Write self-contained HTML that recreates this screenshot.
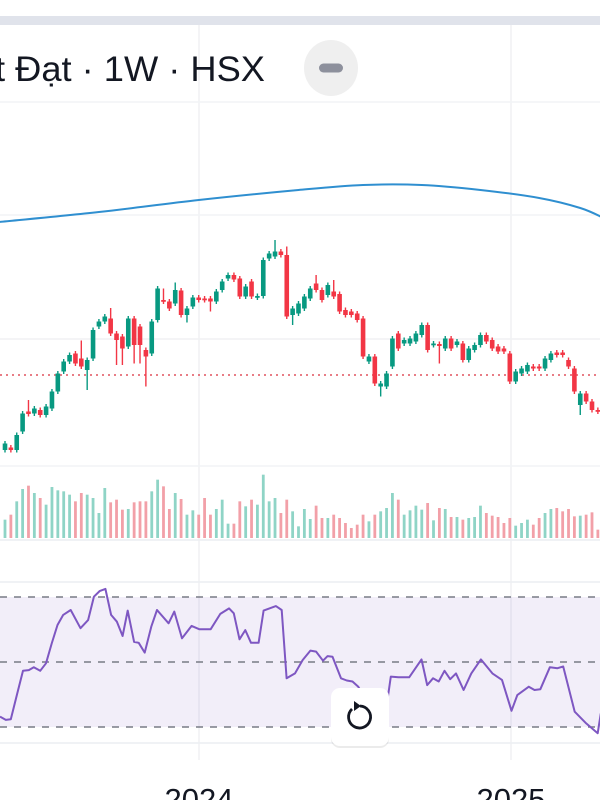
<!DOCTYPE html>
<html><head><meta charset="utf-8">
<style>
html,body{margin:0;padding:0;background:#fff;width:600px;height:800px;overflow:hidden;font-family:"Liberation Sans",sans-serif;}
svg{display:block}
</style></head>
<body>
<svg id="chart" width="600" height="800" viewBox="0 0 600 800" xmlns="http://www.w3.org/2000/svg">
  <rect x="0" y="0" width="600" height="800" fill="#fff"/>
  <rect x="0" y="16" width="600" height="9" fill="#e0e3eb"/>
  <g id="grid">
    <line x1="199" y1="25" x2="199" y2="760" stroke="#f0f1f4" stroke-width="1.5"/>
    <line x1="511" y1="25" x2="511" y2="760" stroke="#f0f1f4" stroke-width="1.5"/>
    <line x1="0" y1="102" x2="600" y2="102" stroke="#f2f3f5" stroke-width="1.5"/>
    <line x1="0" y1="215" x2="600" y2="215" stroke="#f2f3f5" stroke-width="1.5"/>
    <line x1="0" y1="339" x2="600" y2="339" stroke="#f0f1f4" stroke-width="1.5"/>
    <line x1="0" y1="466" x2="600" y2="466" stroke="#f2f3f5" stroke-width="1.5"/>
    <line x1="0" y1="540" x2="600" y2="540" stroke="#eceef2" stroke-width="1.5"/>
    <line x1="0" y1="582" x2="600" y2="582" stroke="#eceef2" stroke-width="1.5"/>
    <line x1="0" y1="743" x2="600" y2="743" stroke="#eceef2" stroke-width="1.5"/>
  </g>
  <text x="-5" y="81" font-size="35" fill="#131722" textLength="270" lengthAdjust="spacingAndGlyphs">t Đạt · 1W · HSX</text>
  <g>
    <ellipse cx="331" cy="68" rx="27" ry="28" fill="#efefef"/>
    <rect x="319" y="63.5" width="24" height="9" rx="4.5" fill="#8d909c"/>
  </g>
  <line x1="0" y1="375" x2="600" y2="375" stroke="#e0525e" stroke-width="1.5" stroke-dasharray="2,4"/>
  <path id="ma" fill="none" stroke="#2f8fd0" stroke-width="2"/>
  <g id="candles"></g>
  <g id="volume"></g>
  <rect x="0" y="597" width="600" height="130" fill="#7e57c2" fill-opacity="0.1"/>
  <g stroke="#787b86" stroke-width="1.6" stroke-dasharray="7,7">
    <line x1="0" y1="597" x2="600" y2="597"/>
    <line x1="0" y1="662" x2="600" y2="662"/>
    <line x1="0" y1="727" x2="600" y2="727"/>
  </g>
  <path id="rsi" fill="none" stroke="#7e57c2" stroke-width="2" stroke-linejoin="round"/>
  <g>
    <rect x="331" y="688" width="58" height="58" rx="9" fill="#000" fill-opacity="0.08" transform="translate(0,2)"/>
    <rect x="331" y="688" width="58" height="58" rx="9" fill="#fff"/>
    <path d="M352 709 A11 11 0 1 0 360 706" fill="none" stroke="#131722" stroke-width="2.8"/>
    <path d="M354 701 L361 706 L354 711 Z" fill="#131722"/>
  </g>
  <text x="199" y="810" font-size="31" fill="#131722" text-anchor="middle">2024</text>
  <text x="511" y="810" font-size="31" fill="#131722" text-anchor="middle">2025</text>
</svg>
<script>
const opens=[10.0,10.5,10.0,13.7,17.7,17.3,18.0,17.0,18.3,21.7,25.7,27.7,29.3,28.3,26.0,28.3,34.7,35.7,36.3,33.3,32.7,30.7,36.3,34.7,30.0,29.3,36.0,40.0,39.7,39.3,41.9,37.0,38.7,40.5,40.3,40.3,39.7,42.0,44.3,45.0,44.3,40.7,43.7,40.5,40.8,48.3,48.7,49.7,49.0,37.0,37.3,38.3,40.3,43.3,42.0,41.0,41.7,41.2,38.0,37.7,37.3,36.3,27.7,28.7,22.7,22.7,26.7,33.3,31.3,31.3,31.7,33.0,35.0,31.0,31.2,30.3,32.3,31.0,31.3,28.0,30.0,31.0,33.0,32.0,30.7,30.3,29.3,23.7,25.3,25.7,26.7,26.7,26.3,28.0,29.5,29.5,28.0,26.3,19.0,21.3,19.7,18.0];
const closes=[11.3,10.0,13.0,17.3,17.2,18.3,17.0,18.7,21.7,25.3,27.7,29.0,27.3,26.7,28.0,34.0,35.7,36.7,33.3,32.0,30.3,36.3,31.0,31.0,28.7,35.7,42.3,39.7,38.3,42.0,37.0,38.3,40.5,40.0,40.0,39.7,41.7,43.7,45.0,44.1,40.7,42.7,40.7,40.8,48.0,49.3,49.7,49.0,36.7,38.3,39.3,40.7,42.3,42.0,40.0,43.0,40.7,37.7,37.0,37.0,36.0,28.7,28.7,23.3,23.3,25.3,32.3,30.3,32.0,32.3,33.3,35.0,30.0,31.3,30.8,32.3,30.3,31.7,28.0,30.3,31.0,33.0,31.7,30.3,29.7,29.7,23.7,25.7,26.3,27.0,26.3,26.3,28.3,29.3,29.0,29.0,26.7,21.7,21.3,19.7,18.0,17.7];
const highs={4:20.0,13:31.9,18:38.4,27:42.3,29:43.5,46:52.0,48:50.7,53:45.0,56:44.0};
const lows={14:22.0,19:27.0,20:27.0,22:27.3,23:27.3,24:22.7,31:35.5,35:37.7,49:35.0,64:20.7,74:27.3,98:17.0};
const volumes=[55,70,110,147,157,135,120,100,153,143,140,130,110,135,130,120,75,150,107,115,85,87,107,110,110,140,175,155,87,135,117,70,83,70,120,70,87,115,43,43,110,95,115,100,190,110,120,75,115,80,35,87,57,97,60,60,70,60,45,30,40,70,50,70,80,90,135,115,70,83,97,85,105,53,90,87,63,63,55,60,63,97,75,67,63,45,60,37,45,55,40,60,75,87,90,80,87,65,67,70,77,25];
const maIndex=[-1,16,33,50,61,71,81,91,98,102];
const maValues=[55.6,57.6,60,62,63,63,62,60.4,58.4,56.4];
const rsiIndex=[-0.85,0.13,0.98,2.09,3.07,4.05,4.9,6.0,6.98,7.96,8.94,9.92,11.2,12.86,14.16,15.14,16.12,17.1,18.08,19.06,20.04,20.9,22.0,22.78,23.8,24.93,25.9,27.87,28.85,30.15,31.79,33.09,35.05,36.68,38.18,38.97,39.95,40.93,41.9,43.2,44.06,46.15,47.13,47.97,49.41,50.72,52.02,53.0,54.17,54.96,55.8,57.24,58.22,59.2,60.18,62.8,64.75,65.73,67.03,68.86,70.95,71.93,72.91,73.89,74.87,75.85,76.83,78.13,79.44,81.07,83.03,84.66,86.29,87.27,89.23,90.21,91.19,92.82,94.12,95.1,97.06,99.02,100.97,101.5];
const rsiValues=[33.2,32.2,32.4,40.4,47.3,47.5,48.4,47.3,49.6,55.7,61.4,64.5,66,60.4,62.9,70.1,71.8,72.5,64.5,62.4,58,65.8,56.2,55.9,52.9,60.9,66,61.9,65.5,57.3,61.1,60.1,60.1,64.8,66.5,65,57,59.8,55.9,55.9,65.8,67.2,66,45,46.5,50.6,53.5,53.2,50.4,51.8,51.6,45,44.3,44,42.4,34.2,33.2,45.5,45.3,45.3,50.8,42.9,45,44,47.3,44.7,46.5,41.4,46.5,50.8,46.5,44.5,35,39.8,42.4,41.4,41.6,48.4,48.1,48.6,34.7,31.1,28.1,34.2];

const NS='http://www.w3.org/2000/svg';
const xS=i=>5+5.87*i;
const yP=p=>500-5*p;
const yV=v=>538-v/3;
const yR=r=>662-(r-50)*3.25;
const GREEN='#089981',RED='#f23645';
const cg=document.getElementById('candles');
const vg=document.getElementById('volume');
for(let i=0;i<opens.length;i++){
  const o=opens[i],c=closes[i],up=c>=o;
  const hi=highs[i]!==undefined?highs[i]:Math.max(o,c)+0.5;
  const lo=lows[i]!==undefined?lows[i]:Math.min(o,c)-0.5;
  const col=up?GREEN:RED;const x=xS(i);
  const w=document.createElementNS(NS,'line');
  
  
  w.setAttribute('x1',x);w.setAttribute('x2',x);w.setAttribute('y1',yP(hi));w.setAttribute('y2',yP(lo));
  w.setAttribute('stroke',col);w.setAttribute('stroke-width','1.4');cg.appendChild(w);
  const b=document.createElementNS(NS,'rect');
  
  
  const top=yP(Math.max(o,c)),h=Math.max(1.8,yP(Math.min(o,c))-top);
  b.setAttribute('x',x-2.3);b.setAttribute('y',top);b.setAttribute('width',4.6);b.setAttribute('height',h);
  b.setAttribute('fill',col);cg.appendChild(b);
  const v=document.createElementNS(NS,'rect');
  
  
  const vy=yV(volumes[i]);
  v.setAttribute('x',x-1.4);v.setAttribute('y',vy);v.setAttribute('width',2.8);v.setAttribute('height',538-vy);
  v.setAttribute('fill',up?'#8fd4c6':'#f2a0a8');vg.appendChild(v);
}
(function(){
  const pts=maIndex.map((k,j)=>[xS(k),yP(maValues[j])]);
  let d='M'+pts[0][0]+' '+pts[0][1];
  for(let j=0;j<pts.length-1;j++){
    const p0=pts[Math.max(0,j-1)],p1=pts[j],p2=pts[j+1],p3=pts[Math.min(pts.length-1,j+2)];
    const c1=[p1[0]+(p2[0]-p0[0])/6,p1[1]+(p2[1]-p0[1])/6];
    const c2=[p2[0]-(p3[0]-p1[0])/6,p2[1]-(p3[1]-p1[1])/6];
    d+=` C${c1[0]} ${c1[1]} ${c2[0]} ${c2[1]} ${p2[0]} ${p2[1]}`;
  }
  document.getElementById('ma').setAttribute('d',d);
})();
document.getElementById('rsi').setAttribute('d',rsiIndex.map((k,j)=>(j?'L':'M')+xS(k).toFixed(1)+' '+yR(rsiValues[j]).toFixed(1)).join(' '));
</script>
</body></html>
